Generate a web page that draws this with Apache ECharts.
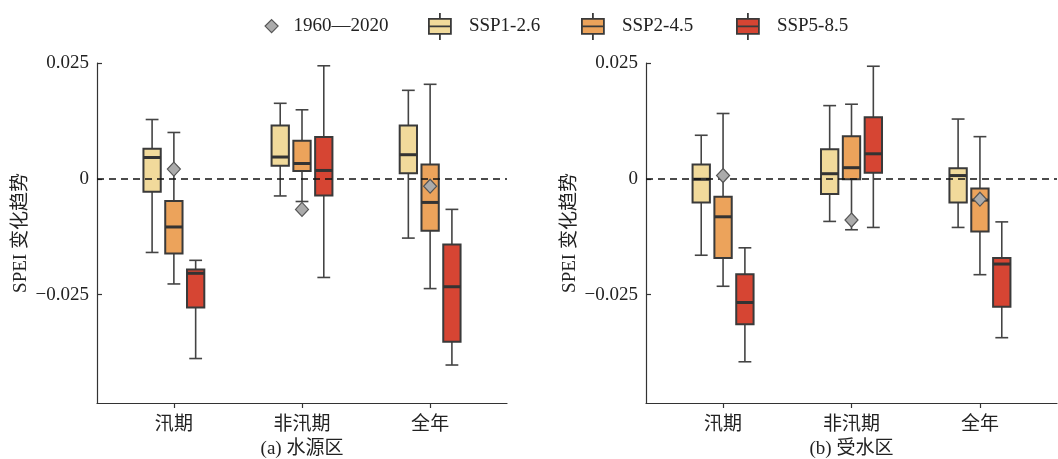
<!DOCTYPE html>
<html>
<head>
<meta charset="utf-8">
<script src="https://cdn.jsdelivr.net/npm/echarts@6/dist/echarts.min.js"></script>
<style>
  html, body { margin: 0; padding: 0; background: #fff; }
  #chart { width: 1058px; height: 459px; }
</style>
</head>
<body>
<div id="chart"></div>
<script>
// 分类与情景
const categories = ['汛期', '非汛期', '全年'];
const scenarios = ['SSP1-2.6', 'SSP2-4.5', 'SSP5-8.5'];
const histName = '1960—2020';

// 每个分类一组: [最小, 下四分位, 中位数, 上四分位, 最大]
// (a) 水源区
const srcSSP126 = [
  [-0.0159, -0.0028, 0.0046, 0.0065, 0.0128],
  [-0.0037, 0.0028, 0.0047, 0.0115, 0.0163],
  [-0.0128, 0.0012, 0.0052, 0.0115, 0.0191],
];
const srcSSP245 = [
  [-0.0227, -0.0161, -0.0104, -0.0048, 0.0100],
  [-0.0049, 0.0017, 0.0033, 0.0082, 0.0149],
  [-0.0237, -0.0112, -0.0051, 0.0031, 0.0204],
];
const srcSSP585 = [
  [-0.0388, -0.0278, -0.0204, -0.0196, -0.0176],
  [-0.0213, -0.0036, 0.0018, 0.0090, 0.0244],
  [-0.0402, -0.0352, -0.0233, -0.0142, -0.0066],
];
const srcHist = [0.0021, -0.0066, -0.0016];

// (b) 受水区
const recvSSP126 = [
  [-0.0165, -0.0051, -0.0001, 0.0031, 0.0094],
  [-0.0092, -0.0033, 0.0011, 0.0064, 0.0158],
  [-0.0105, -0.0051, 0.0007, 0.0023, 0.0129],
];
const recvSSP245 = [
  [-0.0232, -0.0171, -0.0082, -0.0039, 0.0141],
  [-0.0110, -0.0001, 0.0024, 0.0092, 0.0161],
  [-0.0207, -0.0114, -0.0046, -0.0021, 0.0091],
];
const recvSSP585 = [
  [-0.0395, -0.0314, -0.0267, -0.0206, -0.0149],
  [-0.0105, 0.0013, 0.0054, 0.0133, 0.0243],
  [-0.0343, -0.0276, -0.0184, -0.0171, -0.0093],
];
const recvHist = [0.0007, -0.0089, -0.0044];

// y 轴刻度
const yTickValues = [-0.025, 0, 0.025];
const yTickLabels = ['−0.025', '0', '0.025'];
const panelTitles = ['(a) 水源区', '(b) 受水区'];

const colors = ['#f1da9b', '#eca35b', '#d64533'];
const edge = '#3a3a3a';
const font = "'Liberation Serif', 'Noto Sans CJK SC', serif";
const OFFSETS = [-0.17, 0, 0.17];
const BOX_W = 0.135;
const CAP_W = 0.1;

const panels = [
  { boxes: [srcSSP126, srcSSP245, srcSSP585], hist: srcHist },
  { boxes: [recvSSP126, recvSSP245, recvSSP585], hist: recvHist },
];

function renderBox(params, api) {
  const x = api.value(0);
  const half = api.size([BOX_W, 0])[0] / 2;
  const cap = api.size([CAP_W, 0])[0] / 2;
  const pMin = api.coord([x, api.value(1)]);
  const pQ1 = api.coord([x, api.value(2)]);
  const pMed = api.coord([x, api.value(3)]);
  const pQ3 = api.coord([x, api.value(4)]);
  const pMax = api.coord([x, api.value(5)]);
  const cx = pMed[0];
  const fill = api.visual('color');
  const thin = { stroke: '#444', lineWidth: 1.6 };
  return {
    type: 'group',
    children: [
      { type: 'line', shape: { x1: cx, y1: pMax[1], x2: cx, y2: pQ3[1] }, style: thin },
      { type: 'line', shape: { x1: cx, y1: pQ1[1], x2: cx, y2: pMin[1] }, style: thin },
      { type: 'line', shape: { x1: cx - cap, y1: pMax[1], x2: cx + cap, y2: pMax[1] }, style: thin },
      { type: 'line', shape: { x1: cx - cap, y1: pMin[1], x2: cx + cap, y2: pMin[1] }, style: thin },
      {
        type: 'rect',
        shape: { x: cx - half, y: pQ3[1], width: half * 2, height: pQ1[1] - pQ3[1] },
        style: { fill: fill, stroke: edge, lineWidth: 2 },
      },
      {
        type: 'line',
        shape: { x1: cx - half, y1: pMed[1], x2: cx + half, y2: pMed[1] },
        style: { stroke: '#333', lineWidth: 3 },
      },
    ],
  };
}

const grids = [
  { left: 97, top: 63, width: 410, height: 340, outerBoundsMode: 'none', containLabel: false },
  { left: 646, top: 63, width: 411, height: 340, outerBoundsMode: 'none', containLabel: false },
];

const xAxes = [];
const yAxes = [];
const series = [];

panels.forEach((panel, pi) => {
  xAxes.push({
    type: 'value',
    gridIndex: pi,
    min: -0.6,
    max: 2.6,
    name: panelTitles[pi],
    nameLocation: 'middle',
    nameGap: 36,
    nameTextStyle: { fontFamily: font, fontSize: 19, color: '#222' },
    axisLine: { onZero: false, lineStyle: { color: '#333', width: 1.2 } },
    axisTick: { show: true, customValues: [0, 1, 2], length: 5, lineStyle: { color: '#333', width: 1.2 } },
    axisLabel: {
      customValues: [0, 1, 2],
      formatter: (v) => categories[Math.round(v)],
      fontFamily: font,
      fontSize: 19,
      color: '#222',
      margin: 13,
    },
    splitLine: { show: false },
  });
  yAxes.push({
    type: 'value',
    gridIndex: pi,
    min: -0.0484,
    max: 0.025,
    name: 'SPEI 变化趋势',
    nameLocation: 'middle',
    nameGap: 66,
    nameTextStyle: { fontFamily: font, fontSize: 19, color: '#222' },
    axisLine: { show: true, onZero: false, lineStyle: { color: '#333', width: 1.2 } },
    axisTick: { show: true, inside: true, customValues: yTickValues, length: 5, lineStyle: { color: '#333', width: 1.2 } },
    axisLabel: {
      customValues: yTickValues,
      formatter: (v) => yTickLabels[yTickValues.indexOf(v)],
      fontFamily: font,
      fontSize: 19,
      color: '#222',
      margin: 8,
    },
    splitLine: { show: false },
  });

  panel.boxes.forEach((rows, si) => {
    series.push({
      name: scenarios[si],
      type: 'custom',
      xAxisIndex: pi,
      yAxisIndex: pi,
      renderItem: renderBox,
      itemStyle: { color: colors[si] },
      encode: { x: 0, y: [1, 2, 3, 4, 5] },
      z: 2,
      data: rows.map((r, ci) => [ci + OFFSETS[si]].concat(r)),
    });
  });

  series.push({
    name: histName,
    type: 'scatter',
    xAxisIndex: pi,
    yAxisIndex: pi,
    symbol: 'diamond',
    symbolSize: [13, 14],
    itemStyle: { color: '#ababab', borderColor: '#555', borderWidth: 1.2, opacity: 1 },
    z: 5,
    data: panel.hist.map((v, ci) => [ci, v]),
    markLine: {
      silent: true,
      symbol: 'none',
      label: { show: false },
      lineStyle: { type: [7, 5], color: '#111', width: 1.5 },
      data: [{ yAxis: 0 }],
    },
  });
});

const boxIcon = 'path://M0,0 M35,27 M0,6 L22,6 L22,21 L0,21 Z M0,13.5 L22,13.5 M11,0 L11,6 M11,21 L11,27';
const diamondIcon = 'path://M0,0 M35,27 M18,7 L24.5,13.5 L18,20 L11.5,13.5 Z';

const legendItems = [
  { name: histName, icon: diamondIcon, left: 253, itemStyle: { color: '#ababab', borderColor: '#555', borderWidth: 1.2 } },
  { name: scenarios[0], icon: boxIcon, left: 428, itemStyle: { color: colors[0], borderColor: edge, borderWidth: 1.8 } },
  { name: scenarios[1], icon: boxIcon, left: 581, itemStyle: { color: colors[1], borderColor: edge, borderWidth: 1.8 } },
  { name: scenarios[2], icon: boxIcon, left: 736, itemStyle: { color: colors[2], borderColor: edge, borderWidth: 1.8 } },
];

const option = {
  animation: false,
  backgroundColor: '#fff',
  grid: grids,
  xAxis: xAxes,
  yAxis: yAxes,
  legend: legendItems.map((it) => ({
    left: it.left,
    top: 12,
    padding: 0,
    itemWidth: 35,
    itemHeight: 27,
    textStyle: { fontFamily: font, fontSize: 19, color: '#222' },
    data: [{ name: it.name, icon: it.icon, itemStyle: it.itemStyle }],
  })),
  series: series,
};

const chart = echarts.init(document.getElementById('chart'));
chart.setOption(option);
</script>
</body>
</html>
